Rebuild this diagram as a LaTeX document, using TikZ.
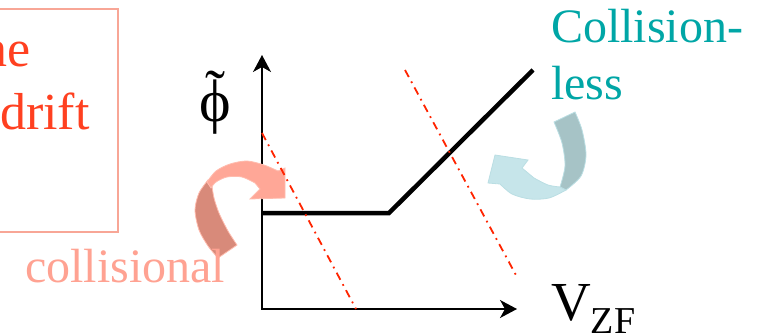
\documentclass[tikz,border=0pt]{standalone}
\usepackage{fontspec}
\setmainfont{Liberation Serif}
\usetikzlibrary{arrows.meta}
\definecolor{driftred}{RGB}{255,64,32}
\definecolor{boxpink}{RGB}{248,166,150}
\definecolor{collpink}{RGB}{255,162,146}
\definecolor{lessteal}{RGB}{0,166,166}
\definecolor{cutred}{RGB}{255,36,0}
\definecolor{salmonfront}{RGB}{255,167,151}
\definecolor{salmonback}{RGB}{216,138,122}
\definecolor{salmonedge}{RGB}{255,188,174}
\definecolor{tealfront}{RGB}{198,229,234}
\definecolor{tealback}{RGB}{166,195,198}
\definecolor{tealedge}{RGB}{186,222,227}
\tikzset{
  txt/.style={inner sep=0pt, anchor=base west, font=\fontsize{48}{56}\selectfont},
  bigtxt/.style={inner sep=0pt, font=\fontsize{52}{62}\selectfont, text=driftred},
  axisline/.style={line width=1.5pt, {Stealth[length=17pt, width=18pt, inset=5pt]}-{Stealth[length=17pt, width=18pt, inset=5pt]}},
  branch/.style={line width=4.5pt, line join=miter},
  cutline/.style={draw=cutred, line width=1.8pt, dash pattern=on 8pt off 5pt on 1.8pt off 5pt},
  ribbonfront/.style={fill=#1front, draw=#1edge, line width=0.8pt},
  ribbonback/.style={fill=#1back, draw=#1edge, line width=0.8pt},
}

\begin{document}
\begin{tikzpicture}[x=1pt, y=-1pt]
  \useasboundingbox (0,0) rectangle (760,334);
  % text box on the left, cut by the frame
  \draw[boxpink, line width=1.5pt] (-20,9) rectangle (118,232);
  \node[bigtxt, anchor=base east] (ne) at (31,67) {ne};
  \node[bigtxt, anchor=base west] (drift) at (0,130) {drift};

  % axes and growth curve
  \coordinate (top) at (262,55);
  \coordinate (origin) at (262,309);
  \coordinate (right) at (517,309);
  \draw[axisline] (top) -- (origin) -- (right);
  \draw[branch] (262,213) -- (389,213) -- (533,70);
  \node[inner sep=0pt, anchor=base west, font=\fontsize{60}{64}\selectfont] (phi) at (199,122)
       {\ooalign{\char"03D5\cr\hidewidth\raisebox{0.17em}{\char"02DC}\hidewidth\cr}};
  \node[inner sep=0pt, anchor=base west, font=\fontsize{55}{60}\selectfont] (vzf) at (551,320)
       {V\raisebox{-0.24em}{\fontsize{38}{40}\selectfont ZF}};

  % curved arrows
  \path[ribbonback=salmon] plot[smooth] coordinates {(208,180) (199,193) (195,210) (199,230) (208,246) (218,258)}
       -- plot[smooth] coordinates {(237,245) (228,231) (219,213) (214,198) (212,186)} -- cycle;
  \path[ribbonfront=salmon] plot[smooth] coordinates {(207,182) (216,171) (230,164) (247,161) (264,165) (278,171)}
       -- (285,168) -- (285,198) -- (250,199) -- (260,189)
       -- plot[smooth] coordinates {(255,183) (242,177) (227,177) (216,182) (211,188)} -- cycle;
  \path[ribbonback=teal] (554,122) -- (575,112)
       -- plot[smooth] coordinates {(575,112) (582,130) (586,155) (581,176) (566,190)}
       -- plot[smooth] coordinates {(560,187) (565,166) (562,143) (554,122)} -- cycle;
  \path[ribbonfront=teal] plot[smooth] coordinates {(566,190) (549,198) (530,199) (512,194) (500,184)}
       -- (488,183) -- (495,155) -- (528,160) -- (522,168)
       -- plot[smooth] coordinates {(534,178) (548,185) (560,187)} -- cycle;

  \node[txt, text=collpink] (coll) at (25,282) {collisional};
  \node[txt, text=lessteal] (less1) at (551,43) {Collision-};
  \node[txt, text=lessteal] (less2) at (551,100) {less};

  % dash-dot cuts
  \draw[cutline] (262,133) -- (356,309);
  \draw[cutline] (405,70) -- (517,277);
\end{tikzpicture}
\end{document}
